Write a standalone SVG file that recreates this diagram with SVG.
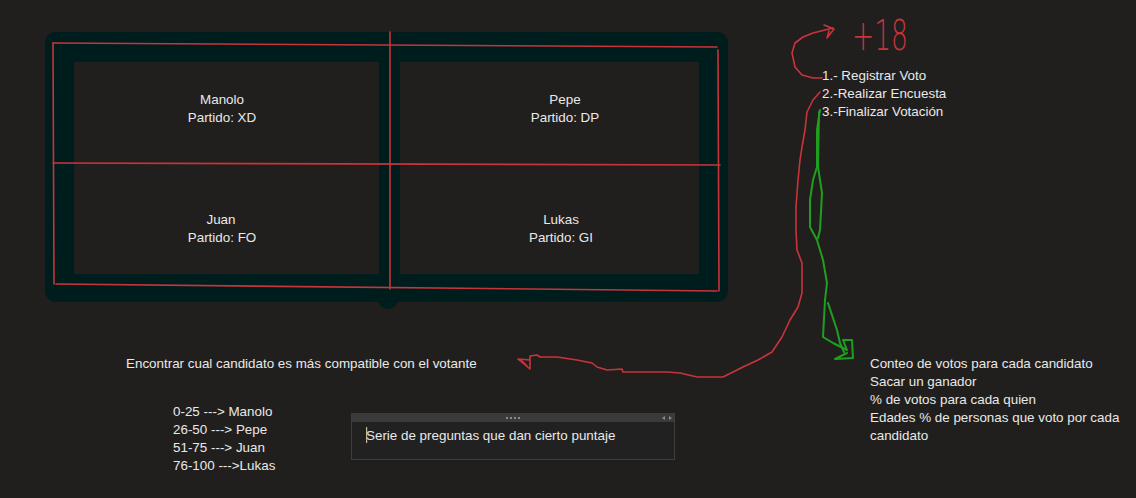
<svg xmlns="http://www.w3.org/2000/svg" width="1136" height="498" viewBox="0 0 1136 498">
<style>
.t{font-family:"Liberation Sans",Arial,sans-serif;font-size:13.4px;fill:#e9e9e9}
.c{text-anchor:middle}
.red{fill:none;stroke:#c9343b;stroke-width:1.6;stroke-linejoin:round;stroke-linecap:round}
.grn{fill:none;stroke:#1f9f1f;stroke-width:2;stroke-linejoin:round;stroke-linecap:round}
.cell{fill:#211f1e}
</style>
<rect width="1136" height="498" fill="#211f1e"/>
<g id="panel">
<rect x="45" y="32" width="683" height="270" rx="11" fill="#001d1e"/>
<circle cx="388" cy="299" r="10" fill="#001d1e"/>
</g>
<g id="cell-manolo">
<rect class="cell" x="74" y="62" width="305" height="101"/>
<text class="t c" x="222" y="104">Manolo</text>
<text class="t c" x="222" y="122">Partido: XD</text>
</g>
<g id="cell-juan">
<rect class="cell" x="74" y="163" width="305" height="111"/>
<text class="t c" x="221" y="224">Juan</text>
<text class="t c" x="222" y="242">Partido: FO</text>
</g>
<g id="cell-pepe">
<rect class="cell" x="400" y="62" width="299" height="101"/>
<text class="t c" x="565" y="104">Pepe</text>
<text class="t c" x="565" y="122">Partido: DP</text>
</g>
<g id="cell-lukas">
<rect class="cell" x="400" y="163" width="299" height="111"/>
<text class="t c" x="561" y="224">Lukas</text>
<text class="t c" x="561" y="242">Partido: GI</text>
</g>
<g id="grid-lines" class="red" stroke-width="1.3">
<path d="M53,43 L717,47"/>
<path d="M53,43 L54,284"/>
<path d="M56,284 L717,291"/>
<path d="M718,50 L719,291"/>
<path d="M390,32 L390,289"/>
<path d="M53,163 L720,165"/>
</g>
<g id="menu">
<text class="t" x="822" y="80">1.- Registrar Voto</text>
<text class="t" x="822" y="98">2.-Realizar Encuesta</text>
<text class="t" x="822" y="116">3.-Finalizar Votación</text>
</g>
<g id="age-note">
<text x="852" y="50" font-family="'DejaVu Sans',sans-serif" font-weight="200" font-size="42" fill="#c9343b" textLength="56" lengthAdjust="spacingAndGlyphs">+18</text>
</g>
<g id="results">
<text class="t" x="870" y="368">Conteo de votos para cada candidato</text>
<text class="t" x="870" y="386">Sacar un ganador</text>
<text class="t" x="870" y="404">% de votos para cada quien</text>
<text class="t" x="870" y="422">Edades % de personas que voto por cada</text>
<text class="t" x="870" y="440">candidato</text>
</g>
<g id="survey">
<text class="t" x="126" y="368">Encontrar cual candidato es más compatible con el votante</text>
</g>
<g id="ranges">
<text class="t" x="173" y="416">0-25 ---&gt; Manolo</text>
<text class="t" x="173" y="434">26-50 ---&gt; Pepe</text>
<text class="t" x="173" y="452">51-75 ---&gt; Juan</text>
<text class="t" x="173" y="470">76-100 ---&gt;Lukas</text>
</g>
<g id="textbox">
<rect x="351.5" y="413.5" width="323" height="46" fill="#212121" stroke="#3d3d3d"/>
<rect x="352" y="414" width="322" height="8" fill="#3a3a3a"/>
<g fill="#8a8a8a">
<rect x="506" y="417" width="2" height="2"/><rect x="510" y="417" width="2" height="2"/><rect x="514" y="417" width="2" height="2"/><rect x="518" y="417" width="2" height="2"/>
<path d="M665,416 L662,418 L665,420Z M669,416 L672,418 L669,420Z"/>
</g>
<text class="t" x="366" y="440">Serie de preguntas que dan cierto puntaje</text>
<rect x="366" y="427" width="1.2" height="16" fill="#c8b89a"/>
</g>
<g id="connectors">
<path class="red" d="M822,78 L813,78 L802,75 L795,67 L792,53 L795,43 L803,37 L813,33 L825,30 L833,28"/>
<path class="red" d="M824,25 L834,29 L827,38 L829,31"/>
<path class="red" d="M820,92 L813,100 L807,112 L805,130 L802,147 L800,160 L798,180 L796,207 L796,230 L797,250 L802,263 L802,293 L798,307 L790,320 L782,337 L772,352 L758,360 L743,367 L733,372 L723,377 L697,377 L680,373 L667,372 L623,372 L622,369 L607,370 L597,367 L592,363 L577,360 L557,357 L540,357 L537,355 L530,356 L530,369 L518,359 L530,360"/>
<path class="red" d="M521,360 L527,366"/>
<path class="grn" d="M820,110 L817,130 L817,167 L813,180 L810,200 L810,227 L817,240 L823,260 L827,283 L825,300 L823,337 L833,343 L847,350 L843,340 L852,340 L853,358 L835,359 L847,353"/>
<path class="grn" d="M819,112 L818,167 L822,193 L820,230 L818,238 M828,303 L837,330 L840,343 L844,352"/>
</g>
</svg>
